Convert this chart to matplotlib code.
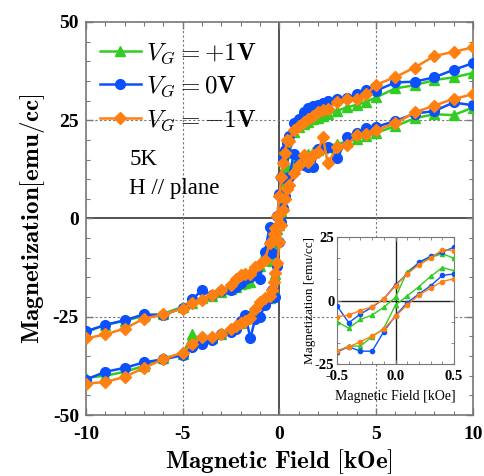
import numpy as np
import matplotlib
matplotlib.use("Agg")
import matplotlib.pyplot as plt
from matplotlib.ticker import MultipleLocator

plt.rcParams['mathtext.fontset'] = 'cm'
plt.rcParams['axes.unicode_minus'] = False

# Field values (kOe) for the descending branch (high -> low)
H_down = [10, 9, 8, 7, 6, 5, 4.5, 4, 3.5, 3, 2.5, 2.25, 2, 1.75, 1.5, 1.25, 1, 0.75,
          0.5, 0.4, 0.3, 0.2, 0.1, 0, -0.1, -0.2, -0.3, -0.4, -0.5,
          -0.75, -1, -1.25, -1.5, -1.75, -2, -2.25, -2.5, -3, -3.5, -4, -4.5, -5,
          -6, -7, -8, -9, -10]
# Field values for the ascending branch (low -> high)
H_up = H_down[::-1]

# V_G = +1V
green_down = [37.0, 35.9, 35.2, 33.9, 33.1, 30.8, 29.7, 28.9, 28.3, 27.4, 26.6, 26.0, 25.6, 25.2, 24.6, 24.0, 23.3, 22.0,
              16.7, 18.4, 17.0, 14.7, 11.4, 1.3, -2.6, -5.7, -7.4, -10.9, -8.3,
              -8.9, -12.0, -14.5, -16.1, -16.3, -16.6, -17.3, -18.0, -18.8, -19.7, -20.3, -21.5, -22.5,
              -24.2, -24.8, -26.0, -27.0, -29.0]
green_up = [-40.5, -40.0, -39.0, -37.5, -35.5, -34.5, -29.5, -31.0, -30.5, -29.5, -28.0, -27.2, -26.5, -25.5, -24.5, -23.0, -21.5, -20.5,
            -20.1, -17.9, -17.9, -14.2, -10.9, -1.7, 1.8, 5.5, 9.5, 13.0, 11.8,
            13.5, 15.0, 15.5, 16.5, 17.0, 17.4, 18.0, 18.3, 19.0, 19.5, 20.2, 21.0, 21.8,
            23.5, 25.5, 26.5, 26.3, 28.2]

# V_G = 0V
blue_down = [39.5, 37.8, 35.9, 34.8, 34.6, 32.5, 32.7, 31.6, 30.6, 30.3, 29.8, 29.3, 28.8, 28.5, 28.0, 27.0, 25.4, 24.2,
             21.0, 19.1, 17.4, 15.1, 10.5, 6.2, 0.7, -2.6, -5.3, -8.7, -2.1,
             -8.5, -15.3, -14.5, -15.0, -15.5, -16.5, -17.5, -18.2, -18.5, -19.5, -18.2, -20.6, -22.7,
             -24.6, -24.4, -25.9, -27.1, -28.7]
blue_up = [-41.0, -39.0, -38.0, -36.6, -35.8, -34.8, -32.7, -31.8, -31.0, -29.5, -28.8, -28.0, -26.0, -24.6, -30.5, -25.5, -25.0, -22.0,
           -20.1, -18.2, -19.9, -19.9, -12.2, -5.9, -0.8, 2.6, 5.8, 9.9, 10.5,
           16.5, 14.0, 13.5, 13.0, 13.2, 17.6, 17.8, 18.2, 15.3, 20.8, 21.8, 22.9, 23.3,
           24.8, 26.7, 27.3, 29.5, 28.8]

# V_G = -1V
orange_down = [43.5, 42.4, 41.3, 38.4, 36.0, 34.0, 31.6, 30.4, 30.4, 29.7, 27.9, 27.5, 27.1, 26.1, 25.4, 24.6, 23.6, 22.5,
               19.7, 20.0, 16.7, 14.1, 10.5, 5.8, 0.7, -2.4, -3.9, -5.7, -6.3,
               -10.6, -11.5, -12.3, -14.0, -14.2, -14.4, -15.5, -17.0, -18.2, -19.5, -20.8, -21.6, -22.9,
               -24.4, -25.5, -28.0, -29.5, -30.5]
orange_up = [-42.0, -41.6, -40.3, -38.0, -35.8, -34.1, -32.0, -30.1, -30.1, -29.3, -28.0, -27.3, -26.7, -26.0, -25.4, -22.9, -21.2, -20.3,
             -19.7, -18.2, -16.2, -13.9, -11.3, -6.1, -1.7, 2.2, 4.9, 7.5, 8.6,
             11.5, 13.5, 16.1, 14.4, 16.1, 17.0, 20.8, 14.0, 18.2, 18.7, 21.2, 21.6, 22.5,
             24.2, 27.0, 28.7, 30.4, 31.6]

labels = [r'$V_G = +\mathbf{1V}$', r'$V_G = \mathbf{0V}$', r'$V_G = -\mathbf{1V}$']
colors = ['#33cc22', '#0a50ff', '#ff7f10']
markers = ['^', 'o', 'D']
msizes = [7, 7, 6]
series = [(green_down, green_up), (blue_down, blue_up), (orange_down, orange_up)]

fig = plt.figure(figsize=(4.85, 4.76), dpi=100)
ax = fig.add_axes([0.177, 0.128, 0.798, 0.826])

spine_c = '#777777'
ax.axhline(0, color='#333333', lw=1.2, zorder=1)
ax.axvline(0, color='#333333', lw=1.2, zorder=1)
for v in (-5, 5):
    ax.axvline(v, color='#777777', lw=0.8, ls=(0, (2, 2)), zorder=1)
for v in (-25, 25):
    ax.axhline(v, color='#777777', lw=0.8, ls=(0, (2, 2)), zorder=1)

handles = []
for (yd, yu), c, m, ms, lab in zip(series, colors, markers, msizes, labels):
    h, = ax.plot(H_down, yd, color=c, marker=m, ms=ms, lw=1.8, mec=c, label=lab, zorder=3)
    ax.plot(H_up, yu, color=c, marker=m, ms=ms, lw=1.8, mec=c, zorder=3)
    handles.append(h)

ax.set_xlim(-10, 10)
ax.set_ylim(-50, 50)
ax.set_xticks([-10, -5, 0, 5, 10])
ax.set_yticks([-50, -25, 0, 25, 50])
ax.xaxis.set_minor_locator(MultipleLocator(1))
ax.yaxis.set_minor_locator(MultipleLocator(5))
ax.tick_params(which='both', direction='in', top=True, right=True, color=spine_c)
ax.tick_params(which='major', length=5, width=1)
ax.tick_params(which='minor', length=3, width=0.8)
ax.tick_params(axis='x', which='major', pad=8)
ax.tick_params(axis='y', which='major', pad=5)
for s in ax.spines.values():
    s.set_color(spine_c)
    s.set_linewidth(1.2)
for t in ax.get_xticklabels() + ax.get_yticklabels():
    t.set_fontfamily('Liberation Serif')
    t.set_fontweight('bold')
    t.set_fontsize(14)

ax.set_xlabel(r'$\mathbf{Magnetic\ Field\ [kOe]}$', fontsize=18)
ax.xaxis.set_label_coords(0.5, -0.083)
ax.set_ylabel(r'$\mathbf{Magnetization[emu/cc]}$', fontsize=18, labelpad=4)

leg = ax.legend(handles=handles, loc='upper left', frameon=False, fontsize=18,
                handlelength=1.65, handletextpad=0.2, labelspacing=0.33,
                borderaxespad=0.0, bbox_to_anchor=(0.01, 0.978))

ax.text(-7.75, 15.0, '5K', fontfamily='Liberation Serif', fontsize=16.5, va='center')
ax.text(-7.75, 7.6, 'H // plane', fontfamily='Liberation Serif', fontsize=16.5, va='center')

# Inset: low field region
axi = fig.add_axes([0.695, 0.235, 0.241, 0.267])
axi.axhline(0, color='#222222', lw=1.0, zorder=1)
axi.axvline(0, color='#222222', lw=1.0, zorder=1)
sel_d = [i for i, h in enumerate(H_down) if abs(h) <= 0.5]
sel_u = [i for i, h in enumerate(H_up) if abs(h) <= 0.5]
for (yd, yu), c in zip(series, colors):
    mk = 'o' if c != '#33cc22' else '^'
    axi.plot([H_down[i] for i in sel_d], [yd[i] for i in sel_d], color=c, marker=mk, ms=3, lw=1.0, zorder=3)
    axi.plot([H_up[i] for i in sel_u], [yu[i] for i in sel_u], color=c, marker=mk, ms=3, lw=1.0, zorder=3)
axi.set_xlim(-0.5, 0.5)
axi.set_ylim(-25, 25)
axi.set_xticks([-0.5, 0.0, 0.5])
axi.set_xticklabels(['-0.5', '0.0', '0.5'])
axi.set_yticks([-25, 0, 25])
axi.xaxis.set_minor_locator(MultipleLocator(0.1))
axi.yaxis.set_minor_locator(MultipleLocator(25 / 3))
axi.tick_params(which='both', direction='in', top=True, right=True, color=spine_c)
axi.tick_params(axis='x', which='major', pad=4)
axi.tick_params(axis='y', which='major', pad=2)
axi.tick_params(which='major', length=3)
axi.tick_params(which='minor', length=2)
for s in axi.spines.values():
    s.set_color(spine_c)
for t in axi.get_xticklabels() + axi.get_yticklabels():
    t.set_fontfamily('Liberation Serif')
    t.set_fontweight('bold')
    t.set_fontsize(10.5)
axi.set_xlabel('Magnetic Field [kOe]', fontfamily='Liberation Serif', fontsize=10, labelpad=5)
axi.set_ylabel('Magnetization [emu/cc]', fontfamily='Liberation Serif', fontsize=9.5, labelpad=-1)

fig.savefig('out.png', dpi=100)
